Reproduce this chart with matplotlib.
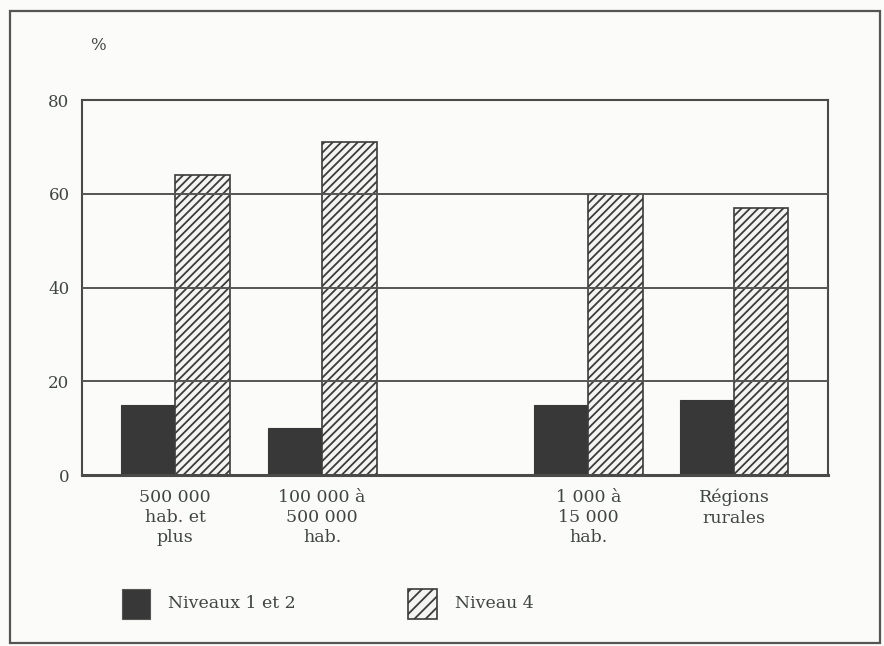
import numpy as np
import matplotlib.pyplot as plt
from matplotlib.patches import Rectangle

plt.rcParams['font.family'] = ['DejaVu Serif']
plt.rcParams['hatch.linewidth'] = 1.3

# taille des agglomérations (la classe 15 000 à 100 000 n'a pas de barre)
categories = ['500 000\nhab. et\nplus', '100 000 à\n500 000\nhab.',
              '1 000 à\n15 000\nhab.', 'Régions\nrurales']
niveaux_1_2 = [15, 10, 15, 16]
niveau_4 = [64, 71, 60, 57]
yticks = [0, 20, 40, 60, 80]

pos = np.array([0, 1, 2.81, 3.80])
w = 0.37
dark = '#383838'
txt = '#3f453f'

fig = plt.figure(figsize=(8.84, 6.46), dpi=100)
fig.patch.set_facecolor('#fbfbf9')
ax = fig.add_axes([0.0928, 0.2647, 0.8439, 0.5805])
ax.set_facecolor('#fbfbf9')

ax.bar(pos - w / 2, niveaux_1_2, w, color=dark, edgecolor=dark, lw=0.8, zorder=2)
ax.bar(pos + w / 2, niveau_4, w, color='#f4f4f2', edgecolor='#3c3c3c',
       hatch='////', lw=1.2, zorder=2)

ax.set_xlim(-0.633, 4.44)
ax.set_ylim(0, 80)
ax.set_yticks(yticks)
ax.set_yticklabels([str(v) for v in yticks], fontsize=12, color=txt)
ax.set_xticks(pos)
ax.set_xticklabels(categories, fontsize=12.5, color=txt, linespacing=1.25)
ax.tick_params(length=0, pad=9)
ax.tick_params(axis='x', pad=10)
for y in yticks[1:-1]:
    ax.axhline(y, color='#555555', lw=1.4, zorder=3)
for s in ax.spines.values():
    s.set_color('#4a4a4a')
    s.set_linewidth(1.5)
ax.spines['bottom'].set_linewidth(2.2)

fig.text(0.111, 0.929, '%', fontsize=12, color=txt, ha='center', va='center')

# légende dessinée à la main
fig.patches.append(Rectangle((0.138, 0.042), 0.032, 0.046, transform=fig.transFigure,
                             facecolor=dark, edgecolor='#555555', lw=0.8))
fig.text(0.190, 0.066, 'Niveaux 1 et 2', fontsize=12.5, color=txt, va='center')
fig.patches.append(Rectangle((0.462, 0.042), 0.032, 0.046, transform=fig.transFigure,
                             facecolor='#f4f4f2', edgecolor='#3c3c3c', hatch='///',
                             lw=1.2))
fig.text(0.515, 0.066, 'Niveau 4', fontsize=12.5, color=txt, va='center')

# cadre extérieur
fig.patches.append(Rectangle((0.011, 0.005), 0.984, 0.978, transform=fig.transFigure,
                             fill=False, edgecolor='#555555', lw=1.6))

fig.savefig('out.png', dpi=100, facecolor=fig.get_facecolor())
